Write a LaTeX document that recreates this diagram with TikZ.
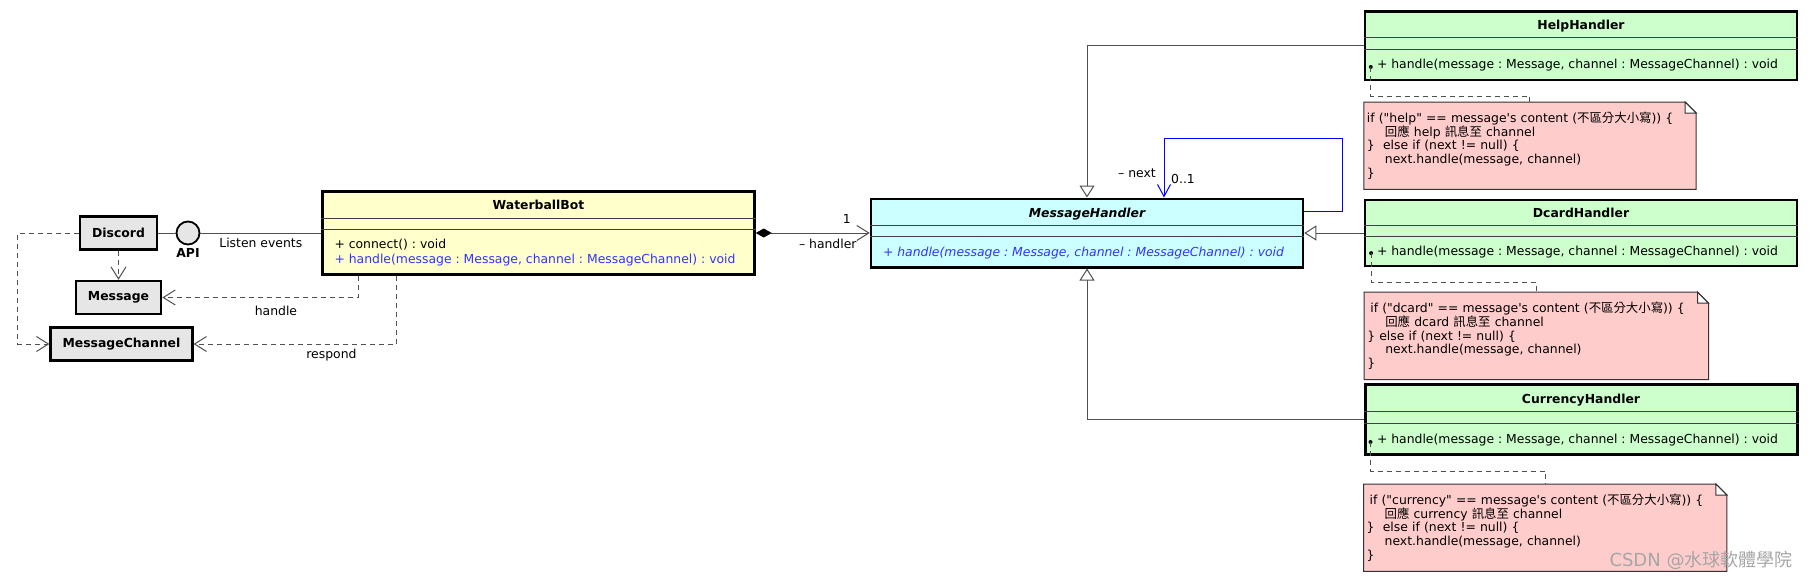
\documentclass[tikz,border=0pt]{standalone}
\usepackage{fontspec}
\usepackage{tikz}
\usetikzlibrary{arrows.meta,positioning,shapes.multipart,backgrounds}
\usepackage{xcolor}

\newfontfamily\uifont{DejaVu Sans}
\newfontfamily\cjk{Noto Sans CJK TC}

\definecolor{botyellow}{RGB}{255,255,204}
\definecolor{handlercyan}{RGB}{204,255,255}
\definecolor{concretegreen}{RGB}{204,255,204}
\definecolor{notepink}{RGB}{255,204,204}
\definecolor{extgray}{RGB}{230,230,230}
\definecolor{opblue}{RGB}{51,51,255}
\definecolor{refblue}{RGB}{0,0,255}
\definecolor{wire}{RGB}{80,80,80}

\newcommand{\uisize}{\fontsize{12.4}{15}\selectfont\frenchspacing}
\newcommand{\ttlstrut}{\rule[-7pt]{0pt}{24pt}}
\newcommand{\attrstrut}{\rule{0pt}{9pt}}
\newcommand{\opstrut}{\rule[-10pt]{0pt}{28pt}}
\newcommand{\dogear}[1]{%
  \filldraw[notebody] (#1.south west) -- (#1.north west)
    -- ([xshift=-11pt]#1.north east) -- ([yshift=-11pt]#1.north east)
    -- (#1.south east) -- cycle;
  \filldraw[notefold] ([xshift=-11pt]#1.north east)
    |- ([yshift=-11pt]#1.north east) -- cycle;}

\begin{document}
\begin{tikzpicture}[x=1pt,y=-1pt,font=\uifont\uisize,
  umlclass/.style={rectangle split,rectangle split parts=3,
    rectangle split draw splits=false,
    rectangle split part align={center,left,left},
    draw=black,line width=2.5pt,minimum width=432pt,
    inner xsep=12pt,inner ysep=0pt},
  ext/.style={rectangle,draw=black,line width=2.5pt,fill=extgray,
    font=\uifont\uisize\bfseries,inner xsep=12pt,minimum height=33pt},
  iface/.style={circle,draw=black,line width=1.8pt,fill=extgray,
    minimum size=23pt,inner sep=0pt},
  notetext/.style={align=left,inner xsep=3pt,inner ysep=0pt,
    minimum height=87pt,font=\uifont\fontsize{12.4}{13.7}\selectfont\frenchspacing},
  notebody/.style={fill=notepink,draw=black!80,line width=1pt},
  notefold/.style={fill=white,draw=black!80,line width=1pt},
  splitline/.style={draw=black!75,line width=0.9pt},
  wireline/.style={draw=wire,line width=1pt},
  dep/.style={draw=wire,line width=1pt,dash pattern=on 5pt off 4pt,
    -{Straight Barb[length=12pt,width=15pt]}},
  notelink/.style={draw=wire,line width=1pt,dash pattern=on 5pt off 4pt},
  inherit/.style={draw=wire,line width=1pt,
    -{Triangle[open,fill=white,length=12pt,width=15pt]}},
  compose/.style={draw=wire,line width=1pt,
    {Diamond[length=16pt,width=9pt,color=black]}-{Straight Barb[length=12pt,width=15pt]}},
  selfref/.style={draw=refblue,line width=1pt,
    -{Straight Barb[length=12pt,width=13pt]}}]

  \useasboundingbox (0,0) rectangle (1812,579);

  \node[umlclass,fill=botyellow] (bot) at (538.5,233)
    {\ttlstrut\bfseries WaterballBot
     \nodepart{two}\attrstrut
     \nodepart{three}\vtop{\hbox{\rule{0pt}{18pt}+ connect() : void}
       \hbox{\rule[-9.5pt]{0pt}{9.5pt}\textcolor{opblue}{+ handle(message : Message, channel : MessageChannel) : void}}}};
  \node[umlclass,fill=handlercyan] (handler) [node distance=548.5pt,right of=bot]
    {\ttlstrut\bfseries\itshape MessageHandler
     \nodepart{two}\attrstrut
     \nodepart{three}\opstrut\itshape\color{opblue}+ handle(message : Message, channel : MessageChannel) : void};
  \node[umlclass,fill=concretegreen,line width=1.8pt] (dcard) [node distance=494pt,right of=handler]
    {\ttlstrut\bfseries DcardHandler
     \nodepart{two}\attrstrut
     \nodepart{three}\opstrut+ handle(message : Message, channel : MessageChannel) : void};
  \node[umlclass,fill=concretegreen] (help) [node distance=187.5pt,above of=dcard]
    {\ttlstrut\bfseries HelpHandler
     \nodepart{two}\attrstrut
     \nodepart{three}\opstrut+ handle(message : Message, channel : MessageChannel) : void};
  \node[umlclass,fill=concretegreen,line width=3pt] (currency) [node distance=186.5pt,below of=dcard]
    {\ttlstrut\bfseries CurrencyHandler
     \nodepart{two}\attrstrut
     \nodepart{three}\opstrut+ handle(message : Message, channel : MessageChannel) : void};

  \node[iface,label={[font=\uifont\uisize\bfseries]below:API}] (api) [node distance=350.5pt,left of=bot] {};
  \node[ext] (discord) [node distance=69.5pt,left of=api] {Discord};
  \node[ext] (msg) [node distance=64.5pt,below of=discord] {Message};
  \node[ext] (channel) [node distance=46.5pt,below of=msg,xshift=3pt] {MessageChannel};

  \node[notetext,text width=326pt,below=21pt of help.south west,anchor=north west] (helpnote)
    {if ("help" == message's content ({\cjk 不區分大小寫})) \{\\
     \hspace*{18pt}{\cjk 回應} help {\cjk 訊息至} channel\\
     \}\ \ else if (next != null) \{\\
     \hspace*{18pt}next.handle(message, channel)\\
     \}};
  \node[notetext,text width=338pt,below=25pt of dcard.south west,anchor=north west] (dcardnote)
    {\hspace*{3pt}if ("dcard" == message's content ({\cjk 不區分大小寫})) \{\\
     \hspace*{18pt}{\cjk 回應} dcard {\cjk 訊息至} channel\\
     \} else if (next != null) \{\\
     \hspace*{18pt}next.handle(message, channel)\\
     \}};
  \node[notetext,text width=357pt,below=28pt of currency.south west,anchor=north west] (currencynote)
    {\hspace*{3pt}if ("currency" == message's content ({\cjk 不區分大小寫})) \{\\
     \hspace*{18pt}{\cjk 回應} currency {\cjk 訊息至} channel\\
     \}\ \ else if (next != null) \{\\
     \hspace*{18pt}next.handle(message, channel)\\
     \}};

  \begin{scope}[on background layer]
    \dogear{helpnote}
    \dogear{dcardnote}
    \dogear{currencynote}
  \end{scope}

  % compartment lines
  \path[splitline]
  (bot.text split west) edge (bot.text split east)
  (bot.two split west) edge (bot.two split east)
  (handler.text split west) edge (handler.text split east)
  (handler.two split west) edge (handler.two split east)
  (help.text split west) edge (help.text split east)
  (help.two split west) edge (help.two split east)
  (dcard.text split west) edge (dcard.text split east)
  (dcard.two split west) edge (dcard.two split east)
  (currency.text split west) edge (currency.text split east)
  (currency.two split west) edge (currency.two split east)
  ;

  % notes
  \coordinate (helppin) at ([shift={(7pt,14pt)}]help.south west);
  \coordinate (dcardpin) at ([shift={(7pt,14pt)}]dcard.south west);
  \coordinate (currencypin) at ([shift={(7pt,14pt)}]currency.south west);
  \fill[black] (helppin) circle (2pt) (dcardpin) circle (2pt) (currencypin) circle (2pt);
  \draw[notelink] (helppin) -- ++(0pt,-29pt) -| (helpnote.north);
  \draw[notelink] (dcardpin) -- ++(0pt,-29pt) -| (dcardnote.north);
  \draw[notelink] (currencypin) -- ++(0pt,-29pt) -| (currencynote.north);

  % chain of handlers
  \draw[inherit] (help) -| (handler);
  \draw[inherit] (dcard) -- (handler);
  \draw[inherit] (currency) -| (handler);
  \draw[selfref] ([yshift=-14pt]handler.north east) -| ([shift={(38pt,59pt)}]handler.north east)
    -| node[at end,xshift=-27pt,yshift=24pt] {– next}
       node[at end,xshift=19pt,yshift=19pt] {0..1} ([xshift=77pt]handler.north);
  \draw[compose] (bot) -- node[at end,xshift=-23pt,yshift=14.5pt] {1}
    node[at end,xshift=-42pt,yshift=-10.5pt] {– handler} (handler);

  % bot side
  \draw[wireline] (discord) -- (api) (api) -- node[below=1pt] {Listen events} (bot);
  \draw[dep] (discord) -- (msg);
  \draw[dep] (discord.west) -- ++(-61pt,0pt) |- (channel);
  \draw[dep] ([xshift=37pt]bot.south west) |- node[pos=0.71,below=5pt] {handle} (msg);
  \draw[dep] ([xshift=75pt]bot.south west) |- node[pos=0.66,below=1pt] {respond} (channel);

  \node[text=black!35,font=\uifont\fontsize{18}{18}\selectfont] (mark) at (1701,560)
    {CSDN @{\cjk 水球軟體學院}};
\end{tikzpicture}
\end{document}
